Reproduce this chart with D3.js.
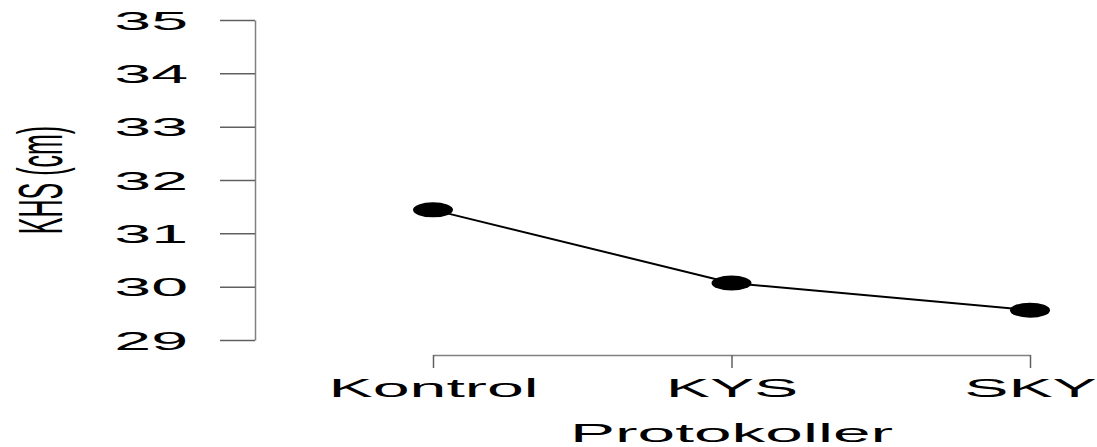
<!DOCTYPE html>
<html>
<head>
    <title>KHS Protokoller</title>
    <script src="https://d3js.org/d3.v7.min.js"></script>
    <style>
        body { margin: 0; background: #fff; }
        text { font-family: "Liberation Sans", Arial, sans-serif; fill: #000; }
    </style>
</head>
<body>
    <div id="chart"></div>

    <script>
        // data
        var categories = ["Kontrol", "KYS", "SKY"];
        var values = [31.44, 30.07, 29.56];
        var yTicks = [29, 30, 31, 32, 33, 34, 35];

        var width = 1097;
        var height = 447;
        // the picture is stretched horizontally, so text and dots are too
        var sx = 2.55;

        var svg = d3.select("#chart")
            .append("svg")
            .attr("width", width)
            .attr("height", height);

        var xScale = d3.scalePoint()
            .domain(categories)
            .range([433, 1030]);

        var yScale = d3.scaleLinear()
            .domain([29, 35])
            .range([340, 20]);

        // y axis
        var yAxis = svg.append("g")
            .attr("transform", "translate(255,0)")
            .call(d3.axisLeft(yScale).tickValues(yTicks).tickSize(35).tickSizeOuter(0).tickFormat(d3.format("d")));

        yAxis.selectAll("text")
            .attr("x", null)
            .attr("dy", "0.35em")
            .attr("font-size", 26)
            .attr("text-anchor", "end")
            .attr("transform", "translate(-67,0) scale(" + sx + ",1)");

        // x axis
        var xAxis = svg.append("g")
            .attr("transform", "translate(0,355)")
            .call(d3.axisBottom(xScale).tickSize(13).tickSizeOuter(0));

        xAxis.selectAll("text")
            .attr("y", null)
            .attr("dy", null)
            .attr("font-size", 26)
            .attr("text-anchor", "middle")
            .attr("transform", "translate(0,42) scale(" + sx + ",1)");

        svg.selectAll(".domain, .tick line")
            .attr("stroke", "#808080")
            .attr("stroke-width", 1.5);

        svg.selectAll(".tick line")
            .attr("stroke", "#606060");

        // axis titles
        svg.append("text")
            .attr("transform", "translate(731.5,442) scale(" + sx + ",1)")
            .attr("text-anchor", "middle")
            .attr("font-size", 26.5)
            .text("Protokoller");

        svg.append("text")
            .attr("transform", "translate(62,180) scale(" + sx + ",1) rotate(-90)")
            .attr("text-anchor", "middle")
            .attr("font-size", 25)
            .text("KHS (cm)");

        // line and points
        var pts = categories.map(function(c, i) { return { name: c, value: values[i] }; });

        var line = d3.line()
            .x(function(d) { return xScale(d.name); })
            .y(function(d) { return yScale(d.value); });

        svg.append("path")
            .datum(pts)
            .attr("d", line)
            .attr("fill", "none")
            .attr("stroke", "#000")
            .attr("stroke-width", 2);

        svg.selectAll("ellipse")
            .data(pts)
            .enter()
            .append("ellipse")
            .attr("cx", function(d) { return xScale(d.name); })
            .attr("cy", function(d) { return yScale(d.value); })
            .attr("rx", 20)
            .attr("ry", 7.5)
            .attr("fill", "#000");
    </script>
</body>
</html>
